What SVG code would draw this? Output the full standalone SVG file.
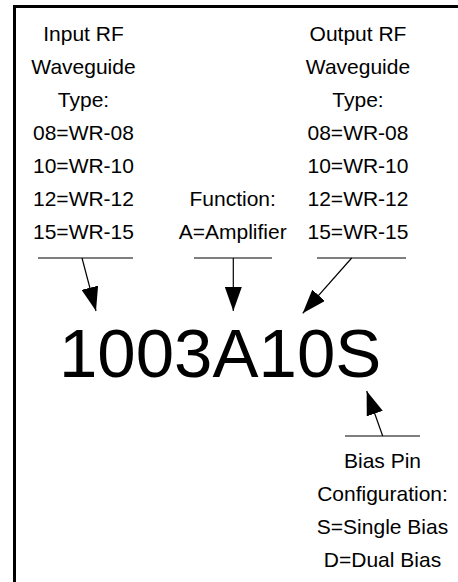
<svg xmlns="http://www.w3.org/2000/svg" width="458" height="582" viewBox="0 0 458 582">
<style>
  text { font-family: "Liberation Sans", Arial, sans-serif; fill: #000; }
  .t { font-size: 21px; text-anchor: middle; }
  .big { font-size: 69px; }
  .bar { stroke: #555; stroke-width: 1.3; fill: none; }
  .ln { stroke: #000; stroke-width: 1.2; fill: none; marker-end: url(#ah); }
</style>
<defs>
  <marker id="ah" markerUnits="userSpaceOnUse" markerWidth="24" markerHeight="17" refX="24" refY="8.5" orient="auto" viewBox="0 0 24 17">
    <path d="M0,0 L24,8.5 L0,17 Z" fill="#000"/>
  </marker>
</defs>
<rect width="458" height="582" fill="#fff"/>
<path d="M14.5,582 V6.5 H458" fill="none" stroke="#000" stroke-width="3"/>

<g id="input">
  <text class="t" x="83.5" y="41">Input RF</text>
  <text class="t" x="83.5" y="74">Waveguide</text>
  <text class="t" x="83.5" y="107">Type:</text>
  <text class="t" x="83.5" y="140">08=WR-08</text>
  <text class="t" x="83.5" y="173">10=WR-10</text>
  <text class="t" x="83.5" y="206">12=WR-12</text>
  <text class="t" x="83.5" y="239">15=WR-15</text>
</g>
<g id="function">
  <text class="t" x="232.7" y="206">Function:</text>
  <text class="t" x="232.7" y="239">A=Amplifier</text>
</g>
<g id="output">
  <text class="t" x="358" y="41">Output RF</text>
  <text class="t" x="358" y="74">Waveguide</text>
  <text class="t" x="358" y="107">Type:</text>
  <text class="t" x="358" y="140">08=WR-08</text>
  <text class="t" x="358" y="173">10=WR-10</text>
  <text class="t" x="358" y="206">12=WR-12</text>
  <text class="t" x="358" y="239">15=WR-15</text>
</g>
<g id="bias">
  <text class="t" x="382.5" y="468">Bias Pin</text>
  <text class="t" x="382.5" y="501">Configuration:</text>
  <text class="t" x="382.5" y="534">S=Single Bias</text>
  <text class="t" x="382.5" y="567">D=Dual Bias</text>
</g>
<g id="code">
  <text class="big" x="59" y="377">1003A10S</text>
</g>

<g id="connectors">
  <line class="bar" x1="38" y1="258" x2="133" y2="258"/>
  <line class="bar" x1="194" y1="258" x2="272" y2="258"/>
  <line class="bar" x1="317" y1="258" x2="406" y2="258"/>
  <line class="bar" x1="345" y1="436" x2="420" y2="436"/>
  <line class="ln" x1="82" y1="258" x2="96" y2="311"/>
  <line class="ln" x1="233.3" y1="258" x2="233.3" y2="311"/>
  <line class="ln" x1="351.7" y1="258" x2="302.7" y2="313.3"/>
  <line class="ln" x1="382.7" y1="436" x2="366.7" y2="391"/>
</g>
</svg>
